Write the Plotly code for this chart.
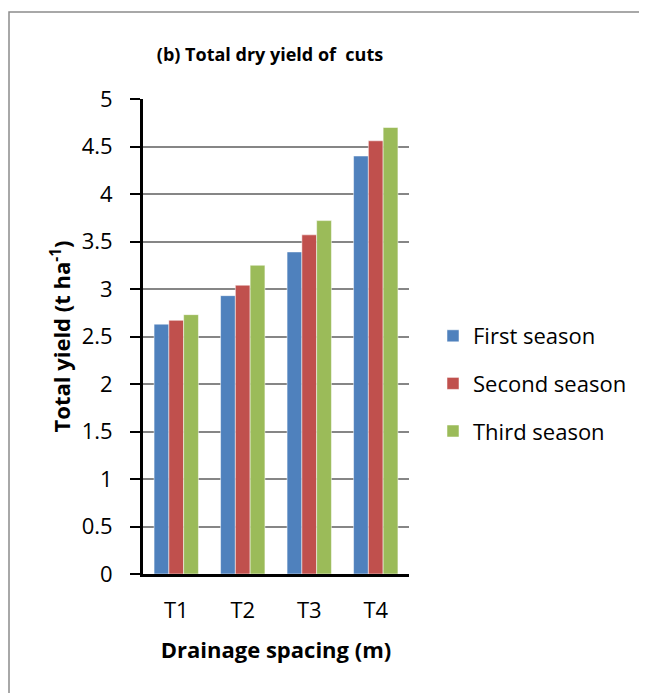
import plotly.graph_objects as go

categories = ["T1", "T2", "T3", "T4"]
first_season = [2.63, 2.93, 3.39, 4.40]
second_season = [2.67, 3.04, 3.57, 4.56]
third_season = [2.73, 3.25, 3.72, 4.70]
y_ticks = [0, 0.5, 1, 1.5, 2, 2.5, 3, 3.5, 4, 4.5, 5]

# page body adds an 8px offset; figure coordinates below are window - 8
W, H = 639, 685
L, R, T, B = 135, 401, 91, 566

def px(x):
    return (x - L) / (R - L)

def py(y):
    return (B - y) / (B - T)

fnt = "Open Sans"
fig = go.Figure()
for i, (name, vals, col) in enumerate([("First season", first_season, "#4F81BD"),
                                       ("Second season", second_season, "#C0504D"),
                                       ("Third season", third_season, "#9BBB59")]):
    fig.add_trace(go.Bar(x=categories, y=vals, name=name, legendgroup=f"g{i}",
                         marker=dict(color=col, line=dict(color="rgba(255,255,255,0.5)", width=1))))

fig.update_layout(
    width=W, height=H,
    margin=dict(l=L, r=W - R, t=T, b=H - B),
    plot_bgcolor="white", paper_bgcolor="white",
    barmode="group", bargap=0.333, bargroupgap=0,
    font=dict(family=fnt, size=22, color="black"),
    title=dict(text="<b>(b) Total dry yield of  cuts</b>", x=262 / W,
               xanchor="center", y=1 - 47 / H, yanchor="middle",
               font=dict(size=18, family=fnt)),
    xaxis=dict(showline=True, linecolor="black", linewidth=3, ticks="",
               tickfont=dict(size=22), ticklabelstandoff=15,
               title=dict(text="<b>Drainage spacing (m)</b>", font=dict(size=22), standoff=20)),
    yaxis=dict(range=[0, 5], tickvals=y_ticks, ticktext=[f"{v:g}" for v in y_ticks],
               showline=True, linecolor="black", linewidth=3,
               ticks="outside", ticklen=10, tickcolor="black", tickwidth=2,
               ticklabelstandoff=13,
               showgrid=True, gridcolor="#868686", gridwidth=1.5, zeroline=False,
               tickfont=dict(size=22),
               title=dict(text="<b>Total yield (t ha<sup>-1</sup>)</b>", font=dict(size=22), standoff=5)),
    legend=dict(x=px(425), y=py(307), xanchor="left", yanchor="top",
                font=dict(size=22), tracegroupgap=16, traceorder="grouped",
                bgcolor="rgba(0,0,0,0)"),
    shapes=[dict(type="rect", xref="paper", yref="paper",
                 x0=px(1), x1=px(700), y0=py(760), y1=py(4),
                 line=dict(color="#8C8C8C", width=1.5), fillcolor="rgba(0,0,0,0)", layer="below")],
)
fig.write_html("out.html")
